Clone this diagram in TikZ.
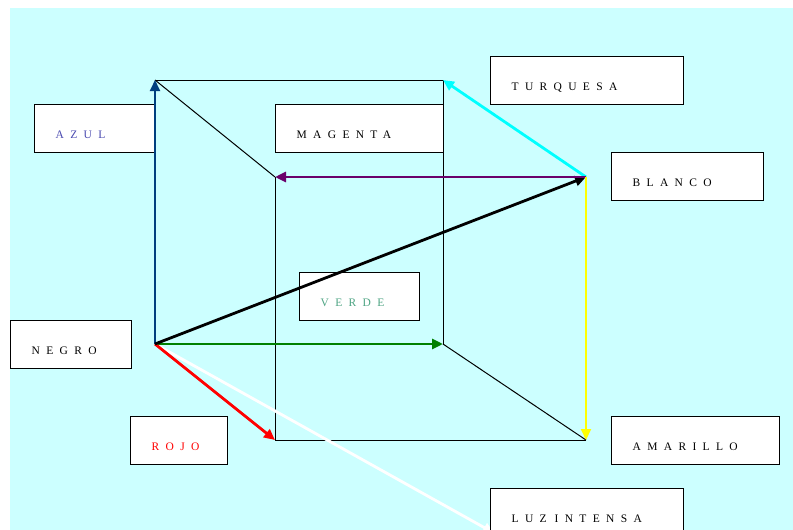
\documentclass[tikz,border=0pt]{standalone}
\usepackage{fontspec}
\setmainfont{Liberation Serif}
\newfontfamily\spacedfont[LetterSpace=55]{Liberation Serif}
\usetikzlibrary{arrows.meta}
\definecolor{bgcyan}{HTML}{CCFFFF}
\definecolor{azulc}{HTML}{003F7F}
\definecolor{azultext}{HTML}{4A4AB0}
\definecolor{verdetext}{HTML}{4FA584}
\definecolor{purp}{HTML}{6B006B}
\definecolor{verde}{HTML}{008000}
\definecolor{turq}{HTML}{00FFFF}
\definecolor{amar}{HTML}{FFFF00}
\definecolor{rojoc}{HTML}{FF0000}
\tikzset{
  lbox/.style={draw=black, fill=white, line width=1.4pt, anchor=north west,
    minimum height=48pt, inner xsep=21pt, inner ysep=0pt, align=left,
    text height=19pt, text depth=0pt,
    font=\spacedfont\fontsize{11.5}{12}\selectfont},
  edge/.style={draw=black, line width=1pt},
  arr/.style={-{Triangle[length=11pt,width=10pt]}, line width=2.8pt}
}
\begin{document}
\begin{tikzpicture}[x=1pt,y=-1pt]
\useasboundingbox (0,0) rectangle (793,530);
\fill[bgcyan] (10,8) rectangle (793,530);
% cube vertices
\coordinate (K) at (155,344);
\coordinate (B) at (155,80);
\coordinate (C) at (443,80);
\coordinate (G) at (443,344);
\coordinate (M) at (275,177);
\coordinate (W) at (586,177);
\coordinate (Y) at (586,440);
\coordinate (R) at (275,440);
\coordinate (LI) at (494,533);
% boxes
\node[lbox, text width=79pt, text=azultext] (azul) at (34,104) {AZUL};
\node[lbox, text width=151pt] (turqb) at (490,56) {TURQUESA};
\node[lbox, text width=126pt] (mag) at (275,104) {MAGENTA};
\node[lbox, text width=110pt] (blanco) at (611,152) {BLANCO};
\node[lbox, text width=78pt, text=verdetext] (verdeb) at (299,272) {VERDE};
\node[lbox, text width=79pt] (negro) at (10,320) {NEGRO};
\node[lbox, text width=55pt, text=rojoc] (rojo) at (130,416) {ROJO};
\node[lbox, text width=126pt] (amarb) at (611,416) {AMARILLO};
% cube edges
\draw[edge] (B) -- (C);
\draw[edge] (B) -- (M);
\draw[edge] (M) -- (R);
\draw[edge] (C) -- (G);
\draw[edge] (G) -- (Y);
\draw[edge] (R) -- (Y);
% arrows
\draw[arr, white] (K) -- (LI);
\draw[arr, azulc, line width=1.8pt] (K) -- (B);
\draw[arr, verde] (K) -- (G);
\draw[arr, rojoc] (K) -- (R);
\draw[arr, black] (K) -- (W);
\draw[arr, turq] (W) -- (C);
\draw[arr, purp] (W) -- (M);
\draw[arr, amar, line width=2pt] (W) -- (Y);
\node[lbox, text width=151pt] (luz) at (490,488) {LUZ\kern8pt INTENSA};
\end{tikzpicture}
\end{document}
